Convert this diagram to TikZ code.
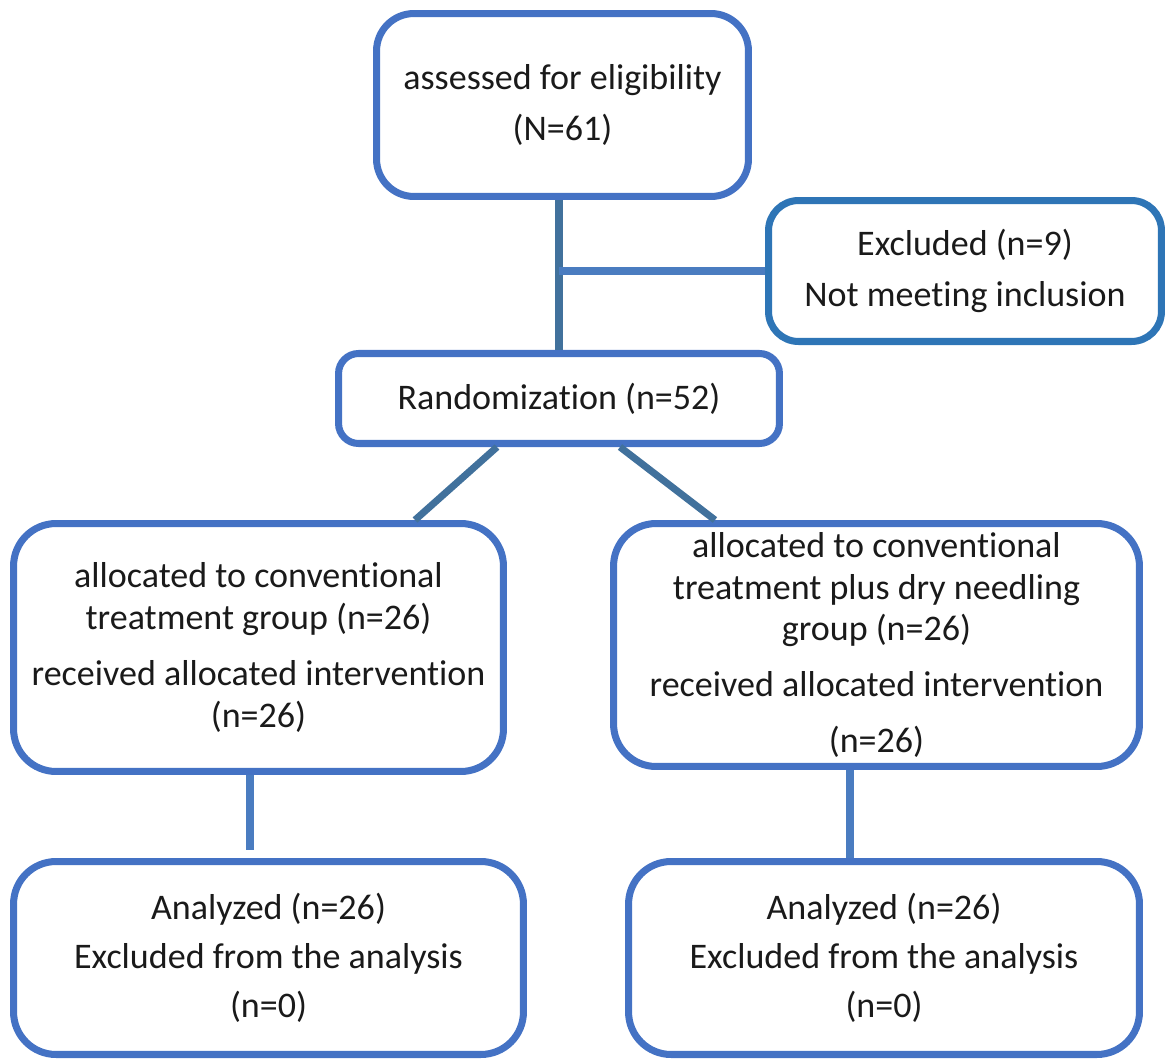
\documentclass[tikz,border=0pt]{standalone}
\usepackage{fontspec}
\setmainfont{Carlito}[Ligatures=NoCommon]
\usetikzlibrary{calc}
\definecolor{boxblue}{HTML}{4472C4}
\definecolor{exblue}{HTML}{2E75B6}
\definecolor{linedark}{HTML}{41719C}
\definecolor{linelight}{HTML}{4A7CC0}
\definecolor{txt}{HTML}{1A1A1A}
\begin{document}
\begin{tikzpicture}[x=0.02cm,y=-0.02cm,
  box/.style={draw=boxblue, line width=4pt, fill=white, rectangle,
    rounded corners=#1, align=center, inner sep=0pt, text=txt},
  box/.default=0.8cm,
  conndark/.style={draw=linedark, line width=4pt},
  connlight/.style={draw=linelight, line width=4pt}]
\useasboundingbox (0,0) rectangle (1167,1061);

\node[box=0.75cm, minimum width=7.44cm, minimum height=3.66cm,
  font=\fontsize{20.5}{29.5}\selectfont] (top) at (562.5,105)
  {assessed for eligibility\\(N=61)};

\node[box=0.6cm, draw=exblue, minimum width=7.86cm, minimum height=2.82cm,
  font=\fontsize{20.5}{29}\selectfont] (excl) at (965,271)
  {Excluded (n=9)\\Not meeting inclusion};

\node[box=0.4cm, minimum width=8.82cm, minimum height=1.80cm,
  font=\fontsize{20.5}{24}\selectfont] (rand) at (559,398.5)
  {Randomization (n=52)};

\node[box=0.85cm, minimum width=9.80cm, minimum height=4.96cm,
  font=\fontsize{20.5}{23.8}\selectfont] (la) at (258.5,647.5)
  {allocated to conventional\\treatment group (n=26)\\[8.5pt]received allocated intervention\\(n=26)};

\node[box=0.85cm, minimum width=10.52cm, minimum height=4.86cm,
  font=\fontsize{20.5}{23.8}\selectfont] (ra) at (876.5,645)
  {allocated to conventional\\treatment plus dry needling\\group (n=26)\\[8pt]received allocated intervention\\[8pt](n=26)};

\node[box=0.85cm, minimum width=10.20cm, minimum height=3.86cm,
  font=\fontsize{20.5}{28}\selectfont] (lb) at (268.5,958)
  {Analyzed (n=26)\\Excluded from the analysis\\(n=0)};

\node[box=0.85cm, minimum width=10.22cm, minimum height=3.86cm,
  font=\fontsize{20.5}{28}\selectfont] (rb) at (884,958)
  {Analyzed (n=26)\\Excluded from the analysis\\(n=0)};

\draw[conndark] (top.south -| rand.north) -- (rand.north);
\coordinate (j) at (rand.north |- excl.west);
\draw[connlight] (j) -- (excl.west);
\draw[conndark] ($(rand.south)+(-62,0)$) -- ($(la.north)+(156.5,0)$);
\draw[conndark] ($(rand.south)+(61,0)$) -- ($(ra.north)+(-161.5,0)$);
\draw[connlight] ($(la.south)+(-8.5,0)$) -- ($(lb.north)+(-18.5,-8)$);
\draw[connlight] ($(ra.south)+(-26.5,0)$) -- ($(rb.north)+(-34,0)$);
\end{tikzpicture}
\end{document}
